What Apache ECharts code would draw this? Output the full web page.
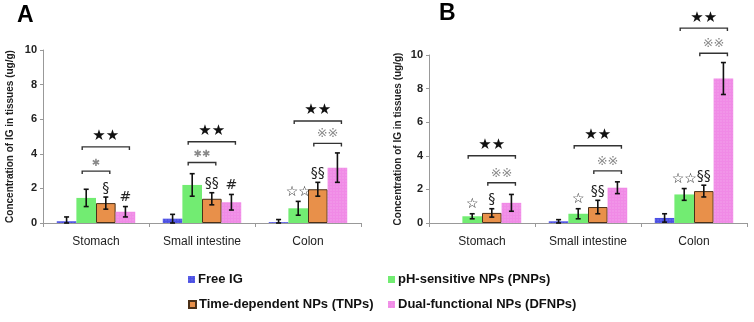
<!DOCTYPE html>
<html>
<head>
<meta charset="utf-8">
<script src="https://cdn.jsdelivr.net/npm/echarts@6/dist/echarts.min.js"></script>
<style>
  html, body { margin: 0; padding: 0; background: #fff; }
  #chart { width: 754px; height: 322px; }
</style>
</head>
<body>
<div id="chart"></div>
<script>
const categories = ["Stomach", "Small intestine", "Colon"];
const seriesNames = [
  "Free IG",
  "pH-sensitive NPs (PNPs)",
  "Time-dependent NPs (TNPs)",
  "Dual-functional NPs (DFNPs)",
];
const yTicks = [0, 2, 4, 6, 8, 10];

// panel A (means + SD per group)
const aFree = [0.1, 0.25, 0.05];
const aPNP  = [1.45, 2.2, 0.85];
const aTNP  = [1.15, 1.4, 1.95];
const aDF   = [0.65, 1.2, 3.2];
const aFreeErr = [0.25, 0.25, 0.15];
const aPNPErr  = [0.5, 0.65, 0.4];
const aTNPErr  = [0.35, 0.35, 0.4];
const aDFErr   = [0.3, 0.45, 0.85];

// panel B
const bFree = [0, 0.1, 0.3];
const bPNP  = [0.4, 0.55, 1.7];
const bTNP  = [0.6, 0.95, 1.9];
const bDF   = [1.2, 2.1, 8.6];
const bFreeErr = [0, 0.1, 0.25];
const bPNPErr  = [0.15, 0.3, 0.35];
const bTNPErr  = [0.25, 0.4, 0.35];
const bDFErr   = [0.5, 0.35, 0.95];

// brackets: [category, height, fromBar, toBar, label]
const aBrackets = [
  [0, 4.4, 1, 3, "★★"], [0, 3.0, 1, 2, "✱"],
  [1, 4.7, 1, 3, "★★"], [1, 3.5, 1, 2, "✱✱"],
  [2, 5.9, 1, 3, "★★"], [2, 4.6, 2, 3, "※※"],
];
const bBrackets = [
  [0, 4.0, 1, 3, "★★"], [0, 2.4, 2, 3, "※※"],
  [1, 4.6, 1, 3, "★★"], [1, 3.1, 2, 3, "※※"],
  [2, 11.6, 1, 3, "★★"], [2, 10.1, 2, 3, "※※"],
];
// marks above single bars: [category, bar, label]
const aMarks = [[0, 2, "§"], [0, 3, "#"], [1, 2, "§§"], [1, 3, "#"], [2, 1, "☆☆"], [2, 2, "§§"]];
const bMarks = [[0, 1, "☆"], [0, 2, "§"], [1, 1, "☆"], [1, 2, "§§"], [2, 1, "☆☆"], [2, 2, "§§"]];

const colors = ["#4b50e4", "#72ec72", "#e8904a", "#f08ae6"];
const FONT = "Arial, 'Liberation Sans', sans-serif";
const SYM = "'DejaVu Sans', sans-serif";
const GAP = 0.26;

const chart = echarts.init(document.getElementById("chart"), null, { renderer: "canvas" });

function barX(api, cat, bar) {
  const band = api.size([1, 0])[0];
  const bw = band * (1 - GAP) / 4;
  return api.coord([cat, 0])[0] + (bar - 1.5) * bw;
}

function errorItem(params, api) {
  const cat = api.value(0), v = api.value(1), e = api.value(2), s = api.value(3);
  if (e <= 0) return null;
  const x = barX(api, cat, s);
  const top = api.coord([cat, v + e])[1];
  const bot = api.coord([cat, Math.max(v - e, 0)])[1];
  const st = { stroke: "#111", lineWidth: 1.6 };
  return {
    type: "group",
    children: [
      { type: "line", shape: { x1: x, y1: top, x2: x, y2: bot }, style: st },
      { type: "line", shape: { x1: x - 2.5, y1: top, x2: x + 2.5, y2: top }, style: st },
      { type: "line", shape: { x1: x - 2.5, y1: bot, x2: x + 2.5, y2: bot }, style: st },
    ],
  };
}

function makeBracketItem(list) {
  return function (params, api) {
    const [cat, h, a, b, label] = list[params.dataIndex];
    const x1 = barX(api, cat, a) - 4, x2 = barX(api, cat, b) + 4;
    const y = api.coord([cat, h])[1];
    const black = label.indexOf("★") >= 0;
    const small = label.indexOf("✱") >= 0;
    return {
      type: "group",
      children: [
        { type: "polyline", shape: { points: [[x1, y + 3], [x1, y], [x2, y], [x2, y + 3]] },
          style: { stroke: "#333", lineWidth: 1.4, fill: null } },
        { type: "text", x: (x1 + x2) / 2, y: y - 3,
          style: { text: label, align: "center", verticalAlign: "bottom",
                   fill: black ? "#111" : "#8a8a8a",
                   font: (black ? "15px " : small ? "10px " : "13px ") + SYM } },
      ],
    };
  };
}

function makeMarkItem(list) {
  return function (params, api) {
    const [cat, top, s, label] = list[params.dataIndex];
    const x = barX(api, cat, s);
    const y = api.coord([cat, top])[1];
    return {
      type: "text", x: x, y: y - 2,
      style: { text: label, align: "center", verticalAlign: "bottom", fill: "#222", font: "14px " + SYM },
    };
  };
}

function panel(idx, vals, errs, brackets, marks) {
  const out = [];
  vals.forEach((d, s) => {
    const style = {
      color: colors[s],
      borderColor: s === 2 ? "#4a3018" : colors[s],
      borderWidth: s === 2 ? 1 : 0,
    };
    if (s === 0 || s === 3) {
      style.decal = {
        symbol: "rect", symbolSize: 0.6, dashArrayX: [2, 1], dashArrayY: [2, 1],
        color: "rgba(255,255,255,0.3)",
      };
    }
    out.push({
      name: seriesNames[s], type: "bar", xAxisIndex: idx, yAxisIndex: idx,
      data: d, barGap: "0%", barCategoryGap: GAP * 100 + "%",
      itemStyle: style,
    });
  });
  const errData = [];
  vals.forEach((d, s) => d.forEach((v, c) => errData.push([c, v, errs[s][c], s])));
  out.push({ type: "custom", xAxisIndex: idx, yAxisIndex: idx, clip: false, z: 5,
             renderItem: errorItem, data: errData, silent: true });
  out.push({ type: "custom", xAxisIndex: idx, yAxisIndex: idx, clip: false, z: 5,
             renderItem: makeBracketItem(brackets), data: brackets.map((r) => [r[0], r[1]]), silent: true });
  const markList = marks.map(([c, s, t]) => [c, vals[s][c] + errs[s][c], s, t]);
  out.push({ type: "custom", xAxisIndex: idx, yAxisIndex: idx, clip: false, z: 5,
             renderItem: makeMarkItem(markList), data: markList.map((r) => [r[0], r[1]]), silent: true });
  return out;
}

const xAxisBase = {
  type: "category", data: categories,
  axisLine: { lineStyle: { color: "#999" } },
  axisTick: { show: true, length: 4, lineStyle: { color: "#999" } },
  axisLabel: { color: "#222", fontSize: 12, fontFamily: FONT, margin: 13 },
};
const yAxisBase = {
  type: "value", min: 0, max: 10, interval: 2,
  name: "Concentration of IG in tissues (ug/g)",
  nameLocation: "middle", nameRotate: 90,
  nameTextStyle: { color: "#222", fontSize: 10, fontWeight: "bold", fontFamily: FONT },
  axisLine: { show: true, lineStyle: { color: "#999" } },
  axisTick: { show: true, length: 3, lineStyle: { color: "#999" } },
  splitLine: { show: false },
  axisLabel: { color: "#222", fontSize: 11, fontWeight: "bold", fontFamily: FONT, margin: 6,
               formatter: (v) => (yTicks.includes(v) ? String(v) : "") },
};

const legendPos = [[188, 273], [388, 273], [188, 298], [388, 298]];

chart.setOption({
  backgroundColor: "#fff",
  animation: false,
  grid: [
    { left: 43, top: 50, width: 318, height: 173 },
    { left: 429, top: 55, width: 318, height: 168 },
  ],
  xAxis: [{ ...xAxisBase, gridIndex: 0 }, { ...xAxisBase, gridIndex: 1 }],
  yAxis: [
    { ...yAxisBase, gridIndex: 0, nameGap: 28 },
    { ...yAxisBase, gridIndex: 1, nameGap: 26 },
  ],
  legend: seriesNames.map((n, i) => ({
    left: legendPos[i][0], top: legendPos[i][1], data: [n],
    icon: "rect", itemWidth: 7, itemHeight: 7, itemGap: 0, padding: 0,
    selectedMode: false,
    textStyle: { color: "#111", fontSize: 13, fontWeight: "bold", fontFamily: FONT, padding: [0, 0, 0, -2] },
  })),
  graphic: [
    { type: "text", left: 17, top: 4, style: { text: "A", font: "bold 23px " + FONT, fill: "#000" } },
    { type: "text", left: 439, top: 2, style: { text: "B", font: "bold 23px " + FONT, fill: "#000" } },
  ],
  series: [
    ...panel(0, [aFree, aPNP, aTNP, aDF], [aFreeErr, aPNPErr, aTNPErr, aDFErr], aBrackets, aMarks),
    ...panel(1, [bFree, bPNP, bTNP, bDF], [bFreeErr, bPNPErr, bTNPErr, bDFErr], bBrackets, bMarks),
  ],
});

window.addEventListener("resize", () => chart.resize());
</script>
</body>
</html>
